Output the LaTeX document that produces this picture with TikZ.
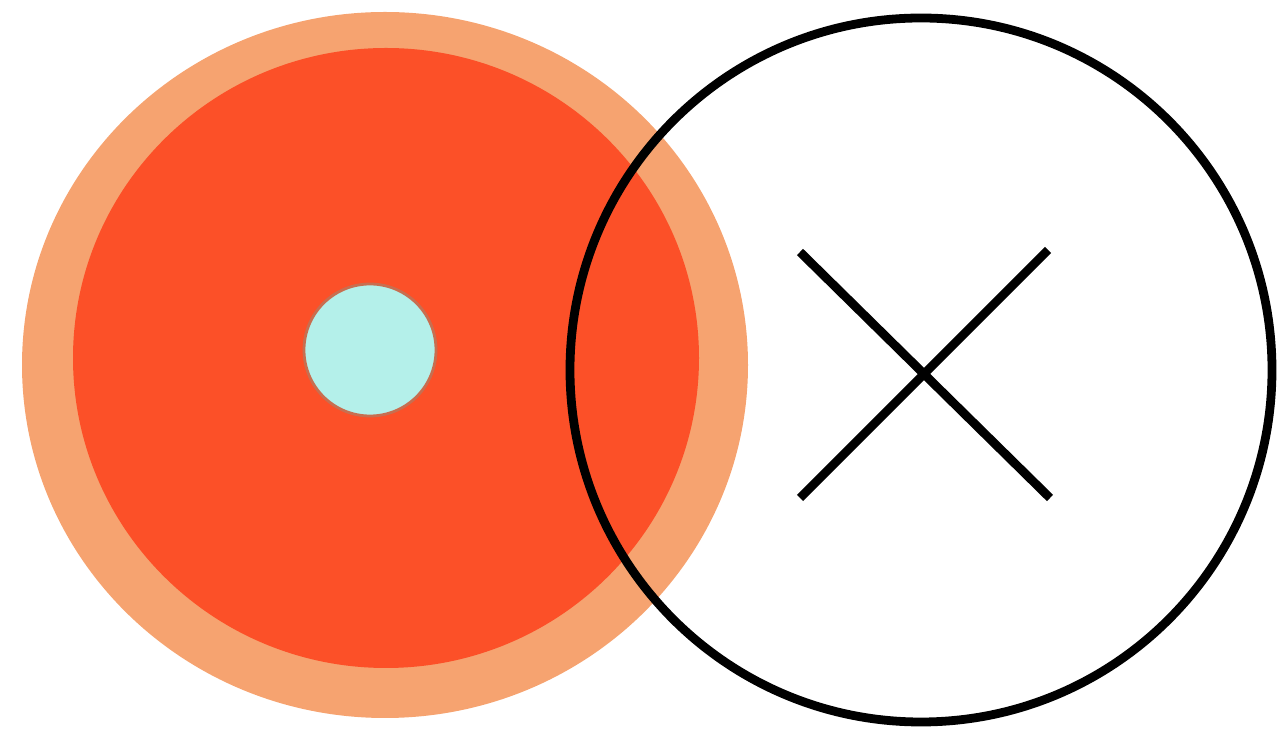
\documentclass[tikz,border=0pt]{standalone}
\usepackage{tikz}
\definecolor{ringpeach}{RGB}{246,163,112}
\definecolor{corered}{RGB}{252,80,40}
\definecolor{dotcyan}{RGB}{180,240,234}
\definecolor{dotrim}{RGB}{200,110,80}
\tikzset{
  blackline/.style={draw=black,line width=2.5pt},
}
\begin{document}
\begin{tikzpicture}[x=.01cm,y=-.01cm]
    \useasboundingbox (0,0) rectangle (1278,731);
    \coordinate (blob) at (385,365);
    \coordinate (mark) at (921,370);
    % orange blob
    \fill[ringpeach] (blob) ellipse [x radius=363,y radius=353];
    \fill[corered] (386,358) ellipse [x radius=313,y radius=310];
    \fill[dotcyan,draw=dotrim,line width=.8pt] (370,350) circle [radius=66];
    % crossed circle
    \draw[blackline] (mark) ellipse [x radius=351,y radius=352];
    \draw[blackline] (800,252)--(1050,498);
    \draw[blackline] (1048,250)--(800,498);
  \end{tikzpicture}
\end{document}
